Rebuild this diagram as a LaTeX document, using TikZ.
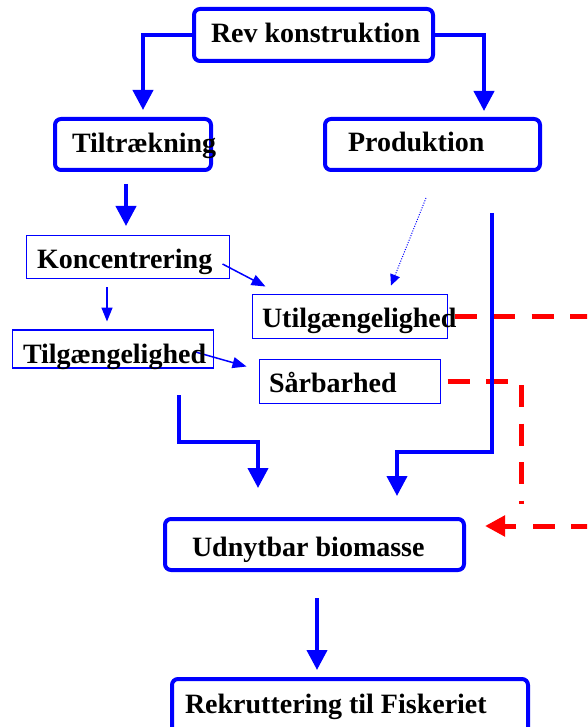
\documentclass[tikz,border=0pt]{standalone}
\usepackage{fontspec}
\setmainfont{Liberation Serif}
\usetikzlibrary{arrows.meta}
\definecolor{fblue}{RGB}{0,0,255}
\definecolor{fred}{RGB}{255,0,0}
\begin{document}
\begin{tikzpicture}[x=1pt,y=-1pt,
  thickbox/.style={draw=fblue, line width=4pt, rounded corners=6pt, inner sep=0pt, outer sep=0pt},
  thinbox/.style={draw=fblue, line width=1.5pt, inner sep=0pt, outer sep=0pt},
  lbl/.style={anchor=base west, inner sep=0pt, outer sep=0pt, font=\fontsize{28}{30}\selectfont\bfseries},
  thickarrow/.style={draw=fblue, line width=4pt, -{Triangle[width=20pt,length=20pt]}},
  thinarrow/.style={draw=fblue, line width=1.5pt, -{Triangle[width=11pt,length=14pt]}},
  dotarrow/.style={draw=fblue, line width=1pt, dash pattern=on 1pt off 1.5pt, -{Triangle[width=10pt,length=11pt]}},
  reddash/.style={draw=fred, line width=5pt, dash pattern=on 22pt off 16.5pt},
  redarrow/.style={draw=fred, line width=5pt, dash pattern=on 22pt off 16.5pt, -{Triangle[width=20pt,length=20pt]}}
]
\useasboundingbox (0,0) rectangle (587,727);
\clip (0,0) rectangle (587,727);
\fill[white] (0,0) rectangle (587,727);

% boxes
\node[thickbox, minimum width=239pt, minimum height=52pt] (rev) at (313.5,35) {};
\node[thickbox, minimum width=156pt, minimum height=51pt] (tilt) at (133,144.5) {};
\node[thickbox, minimum width=215pt, minimum height=51pt] (prod) at (432.5,144.5) {};
\node[thinbox, minimum width=203pt, minimum height=43pt] (konc) at (128,257) {};
\node[thinbox, minimum width=201pt, minimum height=38pt] (tilg) at (113,349) {};
\node[thinbox, minimum width=195pt, minimum height=44pt] (utilg) at (350,316.5) {};
\node[thinbox, minimum width=181pt, minimum height=44pt] (sar) at (350,381.5) {};
\node[thickbox, minimum width=299pt, minimum height=51pt] (udn) at (314.5,544.5) {};
\node[thickbox, minimum width=356pt, minimum height=62pt] (rek) at (350,710) {};

% helper coordinates
\coordinate (tipL) at (143,110);
\coordinate (tipR) at (484,111);
\coordinate (x126) at (126,0);
\coordinate (x107) at (107,0);
\coordinate (x492) at (492,0);
\coordinate (x179) at (179,0);
\coordinate (x317) at (317,0);
\coordinate (bendR) at (397,452);
\coordinate (bendL) at (258,442);
\coordinate (edgeA) at (590,316.5);
\coordinate (redEnd) at (521,504);
\coordinate (edgeB) at (593,526);

% red dashed connectors
\draw[reddash, shorten <=7pt] (utilg.east) -- (edgeA);
\draw[reddash, shorten <=7pt] (sar.east) -| (redEnd);
\draw[redarrow, shorten >=21pt] (edgeB) -- (udn.east |- edgeB);

% blue connectors
\draw[thickarrow] (rev.west) -| (tipL);
\draw[thickarrow] (rev.east) -| (tipR);
\draw[thickarrow, shorten <=14pt, shorten >=9.5pt] (tilt.south -| x126) -- (konc.north -| x126);
\draw[thinarrow] ([shift={(-7,7)}]konc.east) -- ([shift={(13,-8)}]utilg.north west);
\draw[thinarrow, shorten <=8.5pt, shorten >=8.5pt] (konc.south -| x107) -- (tilg.north -| x107);
\draw[thinarrow] ([shift={(-18,3)}]tilg.east) -- ([shift={(-13,7)}]sar.north west);
\draw[dotarrow] ([shift={(-6.5,28)}]prod.south) -- ([shift={(41,-9)}]utilg.north);
\draw[thickarrow, shorten <=43pt, shorten >=23pt] (prod.south -| x492) |- (bendR) -- (udn.north -| bendR);
\draw[thickarrow, shorten <=27pt, shorten >=31pt] (tilg.south -| x179) |- (bendL) -- (udn.north -| bendL);
\draw[thickarrow, shorten <=28pt, shorten >=9pt] (udn.south -| x317) -- (rek.north -| x317);

% texts
\node[lbl] (trev) at (211,43) {Rev konstruktion};
\node[lbl] (ttilt) at (72,153) {Tiltrækning};
\node[lbl] (tprod) at (348,152) {Produktion};
\node[lbl] (tkonc) at (37,268) {Koncentrering};
\node[lbl] (ttilg) at (23,363) {Tilgængelighed};
\node[lbl] (tutilg) at (262,327) {Utilgængelighed};
\node[lbl] (tsar) at (269,392) {Sårbarhed};
\node[lbl] (tudn) at (192,556) {Udnytbar biomasse};
\node[lbl] (trek) at (185,713) {Rekruttering til Fiskeriet};
\end{tikzpicture}
\end{document}
